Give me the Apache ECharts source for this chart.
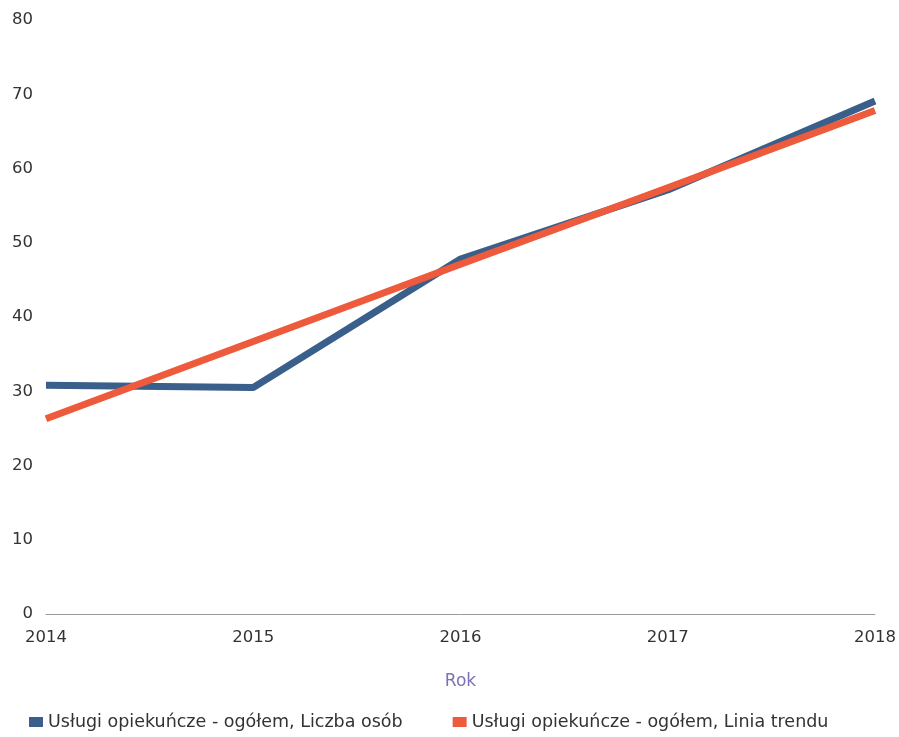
<!DOCTYPE html>
<html>
<head>
<meta charset="utf-8">
<script src="https://cdn.jsdelivr.net/npm/echarts@6/dist/echarts.min.js"></script>
<style>
html,body{margin:0;padding:0;background:#fff;}
#chart{width:899px;height:737px;}
</style>
</head>
<body>
<div id="chart"></div>
<script>
const years = ['2014', '2015', '2016', '2017', '2018'];
const liczbaOsob = [30.8, 30.5, 47.8, 57.1, 69.1];
const liniaTrendu = [26.3, 36.7, 47.1, 57.4, 67.8];
const seriesNames = ['Usługi opiekuńcze - ogółem, Liczba osób', 'Usługi opiekuńcze - ogółem, Linia trendu'];
const yTicks = [0, 10, 20, 30, 40, 50, 60, 70, 80];

const chart = echarts.init(document.getElementById('chart'));
chart.setOption({
  animation: false,
  backgroundColor: '#ffffff',
  textStyle: { fontFamily: 'DejaVu Sans' },
  grid: { left: 46, right: 24, top: 20, bottom: 123, containLabel: false },
  legend: {
    left: 24,
    top: 708,
    itemWidth: 14,
    itemHeight: 10,
    itemGap: 50,
    icon: 'rect',
    textStyle: { fontSize: 17.5, color: '#333', fontFamily: 'DejaVu Sans' },
    data: seriesNames
  },
  xAxis: {
    type: 'category',
    data: years,
    boundaryGap: false,
    name: 'Rok',
    nameLocation: 'middle',
    nameGap: 59,
    nameTextStyle: { color: '#7b73b5', fontSize: 17, fontFamily: 'DejaVu Sans' },
    axisLine: { show: true, lineStyle: { color: '#999', width: 1 } },
    axisTick: { show: false },
    axisLabel: { color: '#333', fontSize: 16.5, margin: 15 },
    splitLine: { show: false }
  },
  yAxis: {
    type: 'value',
    min: yTicks[0],
    max: yTicks[yTicks.length - 1],
    interval: 10,
    axisLine: { show: false },
    axisTick: { show: false },
    splitLine: { show: false },
    axisLabel: { color: '#333', fontSize: 16.5, margin: 13 }
  },
  series: [
    {
      name: seriesNames[0],
      type: 'line',
      data: liczbaOsob,
      symbol: 'none',
      color: '#3a5f8a',
      lineStyle: { width: 7, color: '#3a5f8a' },
      z: 2
    },
    {
      name: seriesNames[1],
      type: 'line',
      data: liniaTrendu,
      symbol: 'none',
      color: '#ee5a3c',
      lineStyle: { width: 7, color: '#ee5a3c' },
      z: 3
    }
  ]
});
</script>
</body>
</html>
